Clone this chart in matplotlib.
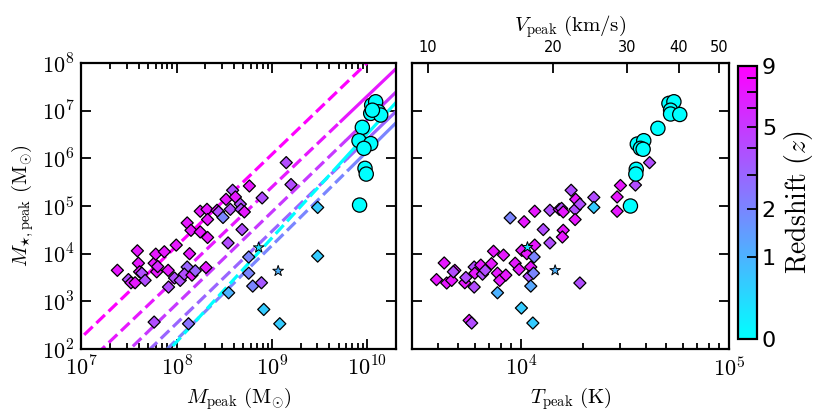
import matplotlib
matplotlib.use("Agg")
import matplotlib.pyplot as plt
import numpy as np
from matplotlib.colors import FuncNorm
from matplotlib.ticker import FixedLocator, NullLocator, FuncFormatter, LogLocator

plt.rcParams['mathtext.fontset'] = 'cm'

# ---- left panel data (log10 values) ----
# diamonds: log Mpeak, log M*, redshift
mpk_d = [7.377, 7.493, 7.52, 7.563, 7.587, 7.598, 7.61, 7.634, 7.668, 7.763,
         7.78, 7.79, 7.80, 7.87, 7.91, 7.914, 7.995, 7.977, 8.037, 8.11,
         8.15, 8.135, 8.11, 8.08, 8.16, 8.195, 8.247, 8.247, 8.318, 8.324,
         8.324, 8.307, 8.423, 8.44, 8.486, 8.518, 8.539, 8.563, 8.587, 8.616,
         8.668, 8.675, 8.71, 8.686, 8.763, 8.897, 8.756, 8.756, 8.798, 8.89,
         8.545, 8.914, 9.082, 9.15, 9.20, 9.48, 9.48, 7.763, 8.124]
mst_d = [3.651, 3.456, 3.39, 3.39, 4.06, 3.80, 3.62, 3.59, 3.44, 3.80,
         3.99, 3.62, 3.73, 4.04, 3.65, 3.30, 4.18, 3.49, 3.44, 4.645,
         4.49, 4.00, 3.72, 3.57, 3.55, 3.64, 4.89, 4.456, 4.93, 4.716,
         4.34, 3.71, 4.91, 4.876, 4.76, 5.14, 4.225, 4.93, 5.33, 5.19,
         5.04, 4.93, 4.876, 4.506, 5.42, 5.17, 3.93, 3.59, 3.32, 3.39,
         3.18, 2.83, 2.53, 5.91, 5.45, 4.97, 3.95, 2.565, 2.53]
z_d = [7, 4, 6, 7, 7, 7, 7, 4, 4, 7,
       7, 7, 6, 7, 7, 4, 7, 4, 4, 7,
       7, 7, 3, 4, 7, 3, 7, 7, 7, 7,
       7, 7, 7, 4, 2, 7, 4, 4, 4, 7,
       4, 4, 7, 4, 7, 4, 2, 2, 2, 3.5,
       1, 0.6, 0.6, 4, 4, 0.6, 0.6, 4, 2.5]
# stars
mpk_s = [8.861, 9.065]
mst_s = [4.128, 3.637]
z_s = [0.3, 1.0]
# circles (z = 0)
mpk_c = [10.047, 10.089, 10.118, 10.037, 10.142, 10.055, 9.949, 9.914, 10.037,
         9.966, 9.977, 9.99, 9.92]
mst_c = [7.118, 7.187, 6.977, 6.943, 6.908, 7.01, 6.65, 6.37, 6.31,
         6.21, 5.79, 5.67, 5.02]

# model relations: redshift, log Mpeak where log M* = 2, slope, dashed below
z_lines = [9, 7, 5, 3, 2, 0]
x0_lines = [6.873, 7.216, 7.51, 7.72, 7.90, 7.93]
slope_lines = [1.92, 1.905, 1.93, 1.93, 1.975, 2.18]
solid_from = [11.0, 9.72, 9.78, 9.80, 9.80, 9.66]

# ---- right panel data ----
tpk_d = [3.595, 3.632, 3.644, 3.668, 3.683, 3.676, 3.731, 3.736, 3.776, 3.779,
         3.776, 3.808, 3.816, 3.829, 3.859, 3.869, 3.888, 3.888, 3.899, 3.917,
         3.928, 3.949, 3.973, 3.992, 4.003, 4.005, 4.016, 4.029, 4.048, 4.04,
         4.064, 4.067, 4.067, 4.061, 4.048, 4.058, 3.752, 3.764, 4.108, 4.14,
         4.14, 4.185, 4.196, 4.204, 4.204, 4.20, 4.261, 4.261, 4.242, 4.264,
         4.284, 4.284, 4.351, 4.351, 4.479, 4.463, 4.463, 4.551, 4.619]
mst_rd = [3.456, 3.805, 3.385, 3.44, 3.65, 3.62, 3.39, 3.50, 3.72, 3.59,
          3.30, 3.76, 3.57, 3.65, 3.79, 4.05, 3.59, 3.18, 3.44, 3.97,
          3.55, 4.75, 3.80, 3.67, 2.86, 4.07, 4.67, 4.00, 3.72, 3.525,
          3.93, 4.18, 4.89, 3.59, 3.32, 2.545, 2.60, 2.545, 4.506, 4.225,
          4.91, 4.93, 4.95, 4.876, 4.49, 4.35, 4.93, 4.716, 5.33, 5.14,
          5.04, 3.385, 5.18, 4.97, 5.43, 5.19, 4.89, 5.44, 5.91]
z_rd = [7, 7, 7, 7, 7, 4, 7, 4, 4, 7,
        4, 7, 4, 4, 7, 7, 7, 1, 7, 7,
        7, 2, 7, 7, 0.6, 7, 7, 7, 7, 4,
        2, 7, 7, 2, 1.2, 0.6, 7, 4, 4, 4,
        4, 7, 4, 7, 7, 7, 4, 7, 4, 7,
        4, 4, 4, 0.6, 7, 7, 7, 4, 4]
tpk_s = [4.032, 4.165]
mst_rs = [4.135, 3.65]
tpk_c = [4.712, 4.736, 4.72, 4.72, 4.764, 4.659, 4.56, 4.591, 4.575, 4.588,
         4.555, 4.553, 4.527]
mst_rc = [7.153, 7.187, 7.01, 6.93, 6.92, 6.63, 6.30, 6.37, 6.21, 6.19,
          5.77, 5.67, 5.00]

v_ticks = [10, 20, 30, 40, 50]


def fwd(z):
    return np.log10(1 + np.asarray(z, dtype=float))


def inv(u):
    return 10 ** np.asarray(u, dtype=float) - 1


norm = FuncNorm((fwd, inv), vmin=0, vmax=9)
cmap = plt.get_cmap('cool')

fig = plt.figure(figsize=(8.23, 4.2), dpi=100)
ax1 = fig.add_axes([0.0990, 0.169, 0.382, 0.681])
ax2 = fig.add_axes([0.5006, 0.169, 0.385, 0.681])
cax = fig.add_axes([0.8967, 0.193, 0.0231, 0.650])

dec = FuncFormatter(lambda v, p: r'$10^{%d}$' % round(np.log10(v)))
dkw = dict(marker='D', s=38, cmap=cmap, norm=norm, edgecolors='k', linewidths=0.9, zorder=3)
skw = dict(marker='*', s=65, cmap=cmap, norm=norm, edgecolors='k', linewidths=0.7, zorder=4)
ckw = dict(marker='o', s=105, cmap=cmap, norm=norm, edgecolors='k', linewidths=0.9, zorder=3)

# left: stellar mass vs halo mass
lm = np.linspace(6.9, 10.4, 400)
for z, x0, b, ms in zip(z_lines, x0_lines, slope_lines, solid_from):
    col = cmap(norm(z))
    ly = 2 + b * (lm - x0)
    low = lm <= ms
    high = lm >= ms
    ax1.plot(10 ** lm[low], 10 ** ly[low], '--', color=col, lw=2.3, zorder=2)
    ax1.plot(10 ** lm[high], 10 ** ly[high], '-', color=col, lw=2.3, zorder=2)

ax1.scatter(10 ** np.array(mpk_d), 10 ** np.array(mst_d), c=z_d, **dkw)
ax1.scatter(10 ** np.array(mpk_s), 10 ** np.array(mst_s), c=z_s, **skw)
ax1.scatter(10 ** np.array(mpk_c), 10 ** np.array(mst_c), c=np.zeros(len(mpk_c)), **ckw)

# right: stellar mass vs virial temperature
ax2.scatter(10 ** np.array(tpk_d), 10 ** np.array(mst_rd), c=z_rd, **dkw)
ax2.scatter(10 ** np.array(tpk_s), 10 ** np.array(mst_rs), c=z_s, **skw)
ax2.scatter(10 ** np.array(tpk_c), 10 ** np.array(mst_rc), c=np.zeros(len(tpk_c)), **ckw)

for ax in (ax1, ax2):
    ax.set_xscale('log')
    ax.set_yscale('log')
    ax.set_ylim(1e2, 1e8)
    ax.xaxis.set_major_locator(LogLocator(base=10, numticks=15))
    ax.yaxis.set_major_locator(LogLocator(base=10, numticks=15))
    ax.yaxis.set_minor_locator(NullLocator())
    ax.xaxis.set_major_formatter(dec)
    ax.yaxis.set_major_formatter(dec)
    ax.tick_params(which='both', direction='in', right=True, width=1.3, labelsize=16)
    ax.tick_params(which='major', length=7)
    ax.tick_params(which='minor', length=4)
    ax.tick_params(axis='x', pad=5)
    ax.tick_params(axis='y', pad=5)
    for sp in ax.spines.values():
        sp.set_linewidth(1.6)

ax1.set_xlim(1e7, 2e10)
ax1.tick_params(which='both', top=True)
ax1.set_xlabel(r'$M_{\rm peak}\ (\mathrm{M}_{\odot})$', fontsize=15)
ax1.set_ylabel(r'$M_{\star,{\rm peak}}\ (\mathrm{M}_{\odot})$', fontsize=15)

ax2.set_xlim(3e3, 1e5)
ax2.tick_params(axis='y', labelleft=False)
ax2.tick_params(axis='x', which='both', top=False)
ax2.set_xlabel(r'$T_{\rm peak}\ (\mathrm{K})$', fontsize=15)

# T = 35.9 V^2
sec = ax2.secondary_xaxis('top', functions=(lambda t: np.sqrt(np.clip(t, 1e-9, None) / 35.9),
                                            lambda v: 35.9 * np.asarray(v) ** 2))
sec.set_xticks(v_ticks)
sec.set_xticklabels([str(v) for v in v_ticks])
sec.xaxis.set_minor_locator(NullLocator())
sec.tick_params(direction='in', length=7, width=1.3, labelsize=10.5, pad=6)
sec.set_xlabel(r'$V_{\rm peak}\ (\mathrm{km/s})$', fontsize=15, labelpad=6)

sm = matplotlib.cm.ScalarMappable(norm=norm, cmap=cmap)
cb = fig.colorbar(sm, cax=cax, ticks=[0, 1, 2, 5, 9])
cb.minorlocator = FixedLocator([3, 4, 6, 7, 8])
cb.ax.tick_params(which='both', direction='in', length=7, width=1.3, labelsize=16)
cb.outline.set_linewidth(1.6)
cb.set_label(r'$\mathrm{Redshift}\ (z)$', fontsize=20, labelpad=4)

fig.savefig('out.png', dpi=100)
